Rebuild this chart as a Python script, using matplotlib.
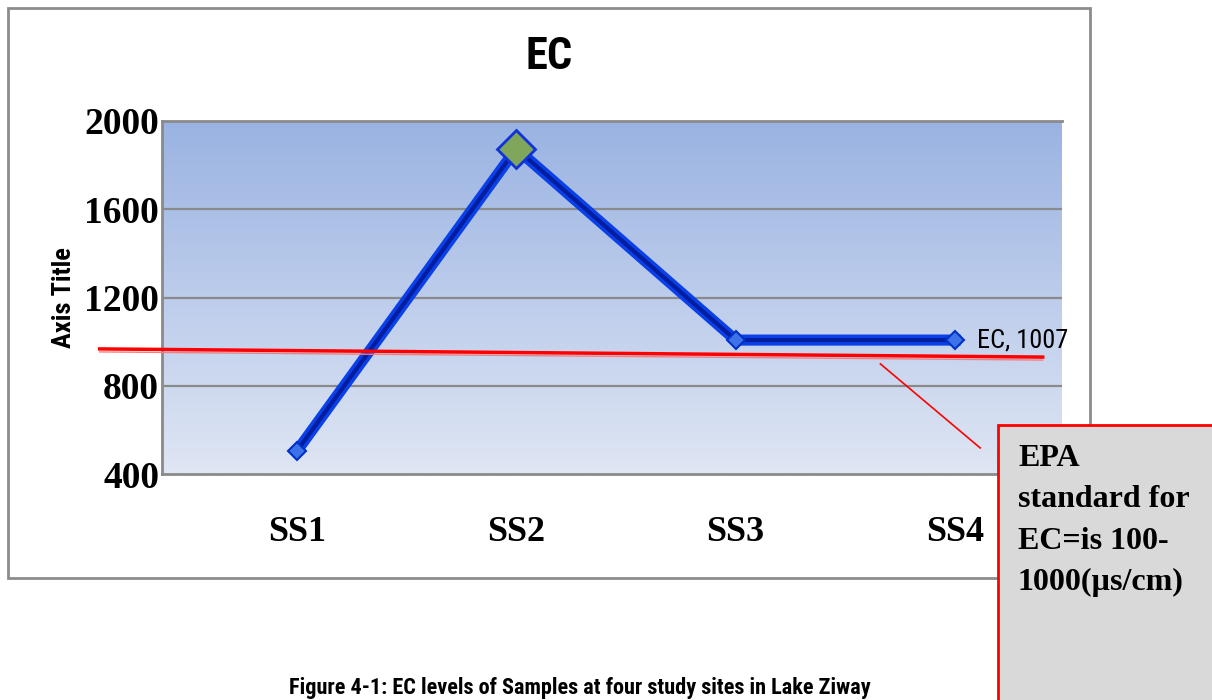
import numpy as np
import matplotlib
matplotlib.use('Agg')
import matplotlib.pyplot as plt
import matplotlib.transforms as mtransforms
from matplotlib import font_manager
from matplotlib.patches import Rectangle

sites = ['SS1', 'SS2', 'SS3', 'SS4']
ec_values = [505, 1875, 1007, 1007]
y_ticks = [400, 800, 1200, 1600, 2000]

# hand drawn EPA line and callout pointer (data coords)
epa_line_x = [-0.90, 3.40]
epa_line_y = [967, 930]
pointer_x = [2.66, 3.115]
pointer_y = [899, 518]
callout_text = 'EPA\nstandard for\nEC=is 100-\n1000(\u00b5s/cm)'

fonts = font_manager.fontManager.ttflist
names = {f.name for f in fonts}
narrow = 'DejaVu Sans'
for cand in ['Liberation Sans Narrow', 'Roboto Condensed', 'Open Sans Condensed', 'Noto Sans Condensed']:
    if cand in names:
        narrow = cand
        break
has_cond = narrow != 'DejaVu Sans' or any(f.name == 'DejaVu Sans' and f.stretch == 'condensed' for f in fonts)
k = 1.0 if has_cond else 0.82   # shrink a bit when only wide fonts are around
serif = 'Liberation Serif'

fig = plt.figure(figsize=(12.12, 7), dpi=100)
ax = fig.add_axes([162/1212, 1-474/700, 900/1212, 353/700])

# outer chart frame
fig.patches.append(Rectangle((8/1212, 1-578/700), 1082/1212, 570/700, transform=fig.transFigure,
                             facecolor='none', edgecolor='#8c8c8c', lw=2, zorder=0))

# gradient plot area
grad = np.linspace(0, 1, 256).reshape(-1, 1)
cmap = matplotlib.colors.LinearSegmentedColormap.from_list('bg', ['#9ab3e2', '#dfe6f4'])
ax.imshow(grad, extent=[0, 1, 0, 1], transform=ax.transAxes, aspect='auto', cmap=cmap, zorder=0)

x = np.arange(len(sites))
ax.set_xlim(-0.6156, 3.488)
ax.set_ylim(400, 2000)
ax.set_yticks(y_ticks)
ax.set_xticks(x)
ax.set_xticklabels(sites)
for v in y_ticks[1:-1]:
    ax.axhline(v, color='#8a8a8a', lw=1.6, zorder=1)

for s in ['left', 'bottom', 'top']:
    ax.spines[s].set_color('#8a8a8a')
    ax.spines[s].set_linewidth(2)
ax.spines['right'].set_visible(False)
ax.tick_params(length=0)
ax.tick_params(axis='y', pad=2)
ax.tick_params(axis='x', pad=30)
for lab in ax.get_yticklabels():
    lab.set_fontfamily(serif); lab.set_fontweight('bold'); lab.set_fontsize(27)
for lab in ax.get_xticklabels():
    lab.set_fontfamily(serif); lab.set_fontweight('bold'); lab.set_fontsize(26)

# EC line, tube look
ax.plot(x, ec_values, color='#0a40e8', lw=8, solid_joinstyle='miter', zorder=3)
ax.plot(x, ec_values, color='#001288', lw=3, alpha=0.75, zorder=4)
small = [0, 2, 3]
ax.plot(x[small], np.array(ec_values)[small], ls='none', marker='D', ms=9,
        mfc='#3d72e8', mec='#0030c8', mew=1.5, zorder=5)
ax.plot(x[1], ec_values[1], ls='none', marker='D', ms=19, mfc='#80a65c',
        mec='#1032d8', mew=2, zorder=6)

ax.annotate('EC, 1007', (x[3], ec_values[3]), xytext=(16, 0), textcoords='offset points',
            va='center', ha='left', fontsize=19*k, family=narrow, fontstretch='condensed', zorder=7)

# EPA standard line (drawn by hand in the source)
ax.plot(epa_line_x, epa_line_y, color='#ff0000', lw=2.5, clip_on=False, zorder=7)
off = mtransforms.offset_copy(ax.transData, fig=fig, x=0, y=-3, units='dots')
ax.plot(epa_line_x, epa_line_y, color='#f08080', lw=1, transform=off, clip_on=False, zorder=7)
ax.plot(pointer_x, pointer_y, color='#ff0000', lw=1.2, clip_on=False, zorder=7)

ax.set_ylabel('Axis Title', fontsize=19*k, fontweight='bold', family=narrow,
              fontstretch='condensed', labelpad=6)

fig.text(549/1212, 1-57/700, 'EC', ha='center', va='center', fontsize=32*k,
         fontweight='bold', family=narrow, fontstretch='condensed')

fig.text(580/1212, 1-688/700, 'Figure 4-1: EC levels of Samples at four study sites in Lake Ziway',
         ha='center', va='center', fontsize=16*k, fontweight='bold', family=narrow,
         fontstretch='condensed')

# callout box
fig.patches.append(Rectangle((998/1212, -0.05), 0.3, 1-425/700+0.05, transform=fig.transFigure,
                             facecolor='#d9d9d9', edgecolor='#ff0000', lw=2, zorder=10))
fig.text(1018/1212, 1-444/700, callout_text, ha='left', va='top', fontsize=23,
         fontweight='bold', family=serif, linespacing=1.56, zorder=11)

fig.savefig('out.png', dpi=100)
